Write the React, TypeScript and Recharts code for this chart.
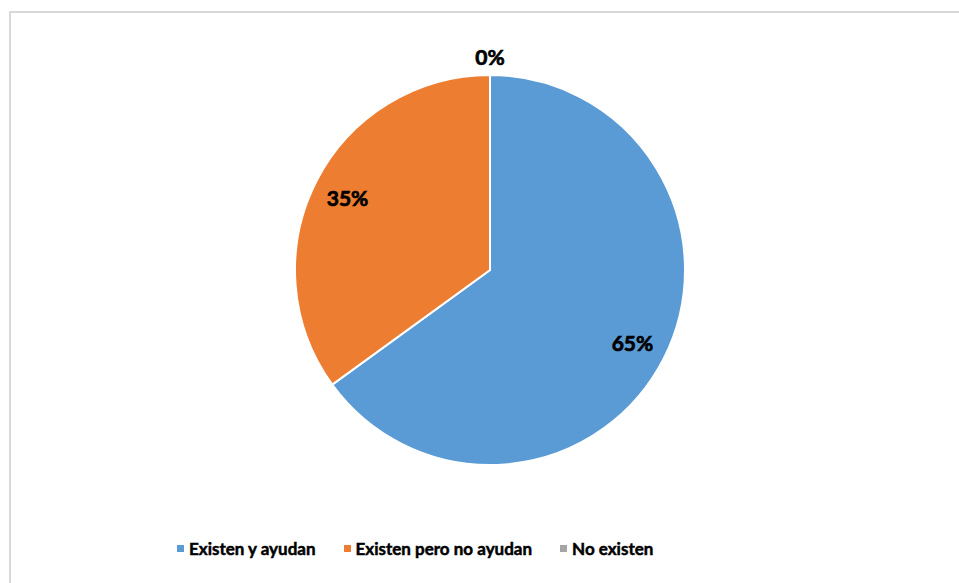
import React from "react";
import { PieChart, Pie, Cell, Legend } from "recharts";

const categories = ["Existen y ayudan", "Existen pero no ayudan", "No existen"];
const values = [65, 35, 0];
const colors = ["#5b9bd5", "#ed7d31", "#a5a5a5"];

const data = categories.map((name, i) => ({ name, value: values[i] }));

const RAD = Math.PI / 180;

const renderLabel = (props: any) => {
  const { cx, cy, midAngle, outerRadius, percent } = props;
  const r = percent === 0 ? outerRadius + 19 : outerRadius * 0.82;
  const x = cx + r * Math.cos(-midAngle * RAD);
  const y = cy + r * Math.sin(-midAngle * RAD);
  return (
    <text
      x={x}
      y={y}
      textAnchor="middle"
      dominantBaseline="central"
      fill="#000"
      stroke="#000"
      strokeWidth={0.7}
      style={{ fontFamily: "Lato, sans-serif", fontWeight: 700, fontSize: 21 }}
    >
      {`${Math.round(percent * 100)}%`}
    </text>
  );
};

const LegendContent = () => (
  <div
    style={{
      display: "flex",
      alignItems: "center",
      fontFamily: "Lato, sans-serif",
      fontWeight: 700,
      fontSize: 17,
      color: "#000",
      WebkitTextStroke: "0.5px #000",
    }}
  >
    {categories.map((c, i) => (
      <div key={c} style={{ display: "flex", alignItems: "center", marginRight: 28 }}>
        <span
          style={{
            display: "inline-block",
            width: 7,
            height: 7,
            background: colors[i],
            marginRight: 5,
          }}
        />
        <span>{c}</span>
      </div>
    ))}
  </div>
);

export default function App() {
  return (
    <div style={{ position: "absolute", left: 0, top: 0, width: 959, height: 583, background: "#fff", overflow: "hidden" }}>
      <div
        style={{
          position: "absolute",
          left: 9,
          top: 11,
          width: 1000,
          height: 1000,
          borderLeft: "2px solid #d9d9d9",
          borderTop: "2px solid #d9d9d9",
        }}
      />
      <div style={{ position: "absolute", left: 0, top: 0 }}>
        <PieChart width={959} height={583}>
          <Pie
            data={data}
            dataKey="value"
            nameKey="name"
            cx={485}
            cy={265}
            outerRadius={195}
            startAngle={90}
            endAngle={-270}
            stroke="#fff"
            strokeWidth={2}
            label={renderLabel}
            labelLine={false}
            isAnimationActive={false}
          >
            {data.map((d, i) => (
              <Cell key={d.name} fill={colors[i]} />
            ))}
          </Pie>
          <Legend
            content={<LegendContent />}
            wrapperStyle={{ position: "absolute", left: 177, top: 538, width: 700 }}
          />
        </PieChart>
      </div>
    </div>
  );
}
